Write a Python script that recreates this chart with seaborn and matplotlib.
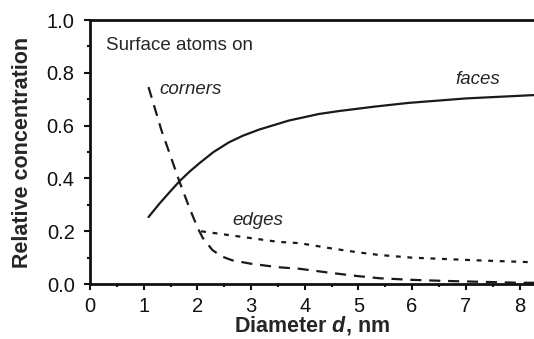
import matplotlib
matplotlib.use('Agg')
import matplotlib.pyplot as plt
import seaborn as sns
from matplotlib.ticker import MultipleLocator

# Values
faces_d = [1.09, 1.3, 1.5, 1.67, 1.85, 2.04, 2.3, 2.59, 2.85, 3.15, 3.7, 4.26, 4.63, 5.3, 5.93, 7.0, 8.0, 8.3]
faces_y = [0.254, 0.306, 0.352, 0.39, 0.425, 0.458, 0.5, 0.537, 0.562, 0.585, 0.619, 0.644, 0.655, 0.672, 0.686, 0.703, 0.713, 0.716]

corners_d = [1.09, 1.33, 1.5, 1.67, 1.85, 2.0, 2.1, 2.28, 2.45, 2.65, 3.0, 3.5, 3.9, 4.5, 5.0, 5.4, 6.0, 6.6, 7.0, 8.0, 8.3]
corners_y = [0.746, 0.583, 0.485, 0.386, 0.29, 0.215, 0.175, 0.129, 0.105, 0.09, 0.077, 0.064, 0.058, 0.042, 0.03, 0.022, 0.016, 0.012, 0.01, 0.005, 0.005]

edges_d = [2.07, 2.5, 3.0, 3.5, 3.9, 4.5, 5.0, 5.4, 6.0, 7.2, 8.2, 8.3]
edges_y = [0.2, 0.188, 0.174, 0.16, 0.155, 0.135, 0.12, 0.11, 0.1, 0.09, 0.083, 0.082]

sns.set_style('ticks')
plt.rcParams['font.family'] = ['Liberation Sans', 'DejaVu Sans']
plt.rcParams['mathtext.fontset'] = 'custom'
plt.rcParams['mathtext.it'] = 'Liberation Sans:bold:italic'
plt.rcParams['mathtext.rm'] = 'Liberation Sans:bold'

fig = plt.figure(figsize=(5.34, 3.39), dpi=100)
ax = fig.add_axes([0.1685, 0.162, 0.8315, 0.779])

sns.lineplot(x=faces_d, y=faces_y, ax=ax, color='#1a1a1a', linewidth=1.6)
sns.lineplot(x=corners_d, y=corners_y, ax=ax, color='#1a1a1a', linewidth=1.6,
             linestyle=(0, (5, 3.5)))
sns.lineplot(x=edges_d, y=edges_y, ax=ax, color='#1a1a1a', linewidth=1.6,
             linestyle=(0, (2.2, 3)))

ax.set_xlim(0, 8.27)
ax.set_ylim(0, 1.0)
ax.xaxis.set_major_locator(MultipleLocator(1))
ax.xaxis.set_minor_locator(MultipleLocator(0.5))
ax.yaxis.set_minor_locator(MultipleLocator(0.1))
ax.set_yticks([0, 0.2, 0.4, 0.6, 0.8, 1.0])
ax.set_yticklabels(['0.0', '0.2', '0.4', '0.6', '0.8', '1.0'])
ax.tick_params(axis='both', which='major', labelsize=14.5, length=4, width=1.5,
               colors='#111111')
ax.tick_params(axis='x', which='major', pad=5)
ax.tick_params(axis='y', which='major', pad=7)
ax.tick_params(axis='both', which='minor', length=2.5, width=1.5, colors='#111111')

for s in ['left', 'bottom', 'top']:
    ax.spines[s].set_linewidth(2)
    ax.spines[s].set_color('#111111')
ax.spines['right'].set_visible(False)

ax.set_xlabel(r'Diameter $d$, nm', fontsize=15.5, fontweight='bold', labelpad=-1)
ax.set_ylabel('Relative concentration', fontsize=15.5, fontweight='bold', labelpad=10)

ax.text(0.3, 0.905, 'Surface atoms on', fontsize=13.5, ha='left', va='center')
ax.text(1.3, 0.735, 'corners', fontsize=13.5, style='italic', ha='left', va='center')
ax.text(2.65, 0.24, 'edges', fontsize=13.5, style='italic', ha='left', va='center')
ax.text(6.8, 0.775, 'faces', fontsize=13.5, style='italic', ha='left', va='center')

fig.savefig('out.png', dpi=100)
